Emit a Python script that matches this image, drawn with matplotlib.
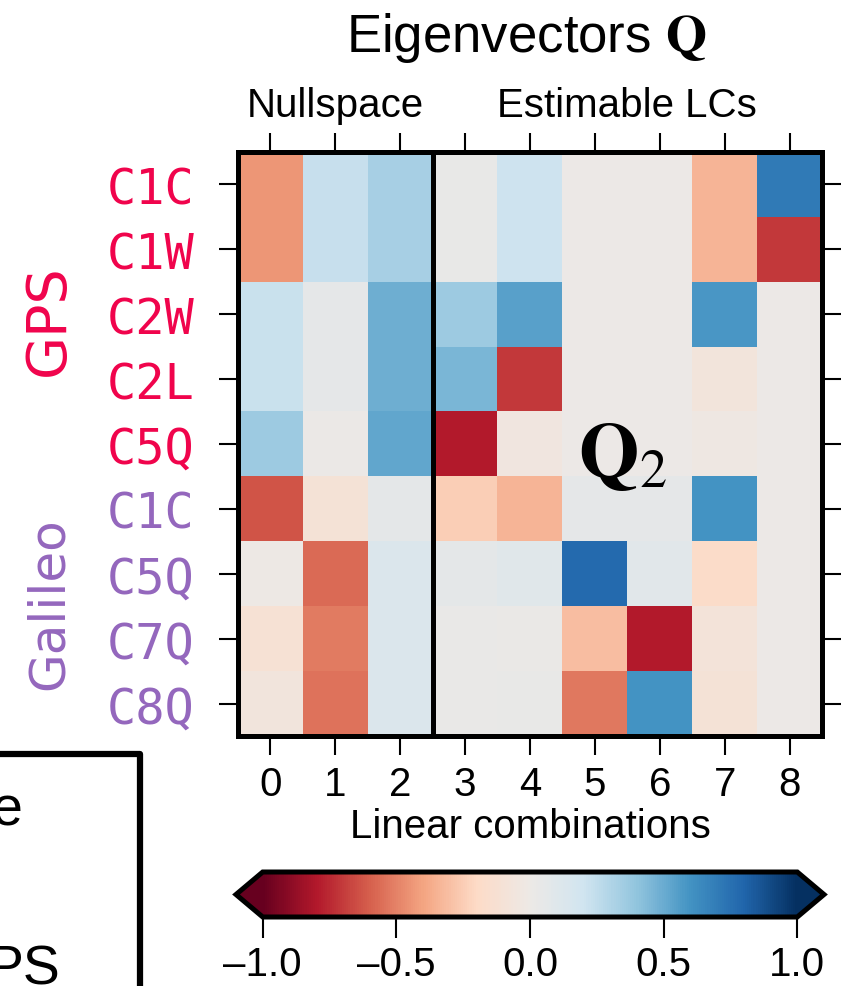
import numpy as np
import matplotlib
matplotlib.use('Agg')
import matplotlib.pyplot as plt
from matplotlib.colors import LinearSegmentedColormap
from matplotlib.patches import Rectangle
import matplotlib.transforms as mtransforms

plt.rcParams['mathtext.fontset'] = 'stix'
plt.rcParams['font.family'] = ['Liberation Sans', 'DejaVu Sans']

# ---------------- data ----------------
systems = ['GPS', 'Galileo']
system_rows = [5, 4]
signals = ['C1C', 'C1W', 'C2W', 'C2L', 'C5Q', 'C1C', 'C5Q', 'C7Q', 'C8Q']
lc_ticks = [0, 1, 2, 3, 4, 5, 6, 7, 8]
n_nullspace = 3
group_labels = ['Nullspace', 'Estimable LCs']

col0 = [-0.44, -0.44, 0.22, 0.22, 0.36, -0.63, -0.01, -0.11, -0.06]
col1 = [0.23, 0.23, 0.05, 0.05, 0.015, -0.10, -0.57, -0.52, -0.54]
col2 = [0.33, 0.33, 0.49, 0.49, 0.52, 0.06, 0.12, 0.12, 0.12]
col3 = [0.035, 0.035, 0.36, 0.46, -0.79, -0.25, 0.06, 0.03, 0.03]
col4 = [0.21, 0.21, 0.54, -0.71, -0.04, -0.34, 0.09, 0.02, 0.035]
col5 = [0.0, 0.0, 0.0, 0.0, 0.0, 0.05, 0.78, -0.31, -0.53]
col6 = [0.0, 0.0, 0.0, 0.0, 0.0, 0.05, 0.08, -0.79, 0.60]
col7 = [-0.34, -0.34, 0.58, -0.07, -0.02, 0.60, -0.18, -0.08, -0.10]
col8 = [0.71, -0.71, 0.0, 0.0, 0.0, 0.0, 0.0, 0.0, 0.0]
Q = np.column_stack([col0, col1, col2, col3, col4, col5, col6, col7, col8])

cbar_ticks = [-1.0, -0.5, 0.0, 0.5, 1.0]

# colormap: ColorBrewer RdBu with a slightly warm-grey centre
anchors = ['#67001f', '#b2182b', '#d6604d', '#f4a582', '#fddbc7', '#ede9e6',
           '#d1e5f0', '#92c5de', '#4393c3', '#2166ac', '#053061']
cmap = LinearSegmentedColormap.from_list('rdbu_grey', anchors, N=256)

gps_color = '#f0044c'
gal_color = '#9467bd'

# ---------------- figure ----------------
W, H = 856, 987
fig = plt.figure(figsize=(W / 100, H / 100), dpi=100)

def fx(px):
    return px / W

def fy(py):
    return 1 - py / H

ax_l, ax_r, ax_t, ax_b = 238, 822, 153, 737
ax = fig.add_axes([fx(ax_l), fy(ax_b), fx(ax_r - ax_l), (ax_b - ax_t) / H])
im = ax.imshow(Q, cmap=cmap, vmin=-1, vmax=1, aspect='auto', interpolation='nearest')

ax.axvline(n_nullspace - 0.5, color='black', lw=3.6)

for s in ax.spines.values():
    s.set_linewidth(3.6)

ax.set_xticks(lc_ticks)
ax.set_xticklabels([str(t) for t in lc_ticks])
ax.set_yticks(range(len(signals)))
ax.set_yticklabels(signals, family='DejaVu Sans Mono', fontsize=35)
ax.tick_params(which='both', direction='out', length=14, width=1.5,
               top=True, right=True, labeltop=False, labelright=False)
ax.tick_params(axis='x', labelsize=29, pad=7)
ax.tick_params(axis='y', pad=17)

row_colors = [gps_color] * system_rows[0] + [gal_color] * system_rows[1]
for lab, c in zip(ax.get_yticklabels(), row_colors):
    lab.set_color(c)

# x label
ax.text(0.5, -0.173, 'Linear combinations', transform=ax.transAxes,
        ha='center', va='baseline', fontsize=29)

# group labels above
blend = mtransforms.blended_transform_factory(ax.transData, ax.transAxes)
ax.text((n_nullspace - 1) / 2, 1.062, group_labels[0], transform=blend,
        ha='center', va='baseline', fontsize=29)
ax.text((n_nullspace + len(lc_ticks) - 1) / 2, 1.062, group_labels[1], transform=blend,
        ha='center', va='baseline', fontsize=29)

# title
fig.text(fx(526), fy(52), r'Eigenvectors $\mathbf{Q}$', ha='center', va='baseline',
         fontsize=38)

# Q2 label
ax.text(5.43, 4.5, r'$\mathbf{Q}_2$', ha='center', va='baseline', fontsize=56)

# system labels
fig.text(fx(49), fy(320), systems[0], rotation=90, ha='center', va='center',
         fontsize=40, color=gps_color, family='DejaVu Sans')
fig.text(fx(49), fy(604), systems[1], rotation=90, ha='center', va='center',
         fontsize=36, color=gal_color, family='DejaVu Sans')

# colorbar (cax includes the extension triangles)
cb_l, cb_r, cb_t, cb_b = 236, 824, 873, 918
cax = fig.add_axes([fx(cb_l), fy(cb_b), fx(cb_r - cb_l), (cb_b - cb_t) / H])
cbar = fig.colorbar(im, cax=cax, orientation='horizontal', extend='both',
                    ticks=cbar_ticks)
cbar.outline.set_linewidth(3.6)
cbar.ax.set_xticklabels([f'{t:.1f}'.replace('-', '\u2013') for t in cbar_ticks])
cbar.ax.tick_params(direction='out', length=15, width=1.5, labelsize=29, pad=5)

# partial neighbouring panel box (bottom-left)
box = Rectangle((-0.2, -0.2), fx(140) + 0.2, fy(755) + 0.2, transform=fig.transFigure,
                fill=False, lw=4.5, edgecolor='black', clip_on=False, joinstyle='round')
fig.add_artist(box)
fig.text(fx(23), fy(826), 'e', ha='right', va='baseline', fontsize=40)
fig.text(fx(60), fy(985), 'PS', ha='right', va='baseline', fontsize=40)

fig.savefig('out.png', dpi=100)
